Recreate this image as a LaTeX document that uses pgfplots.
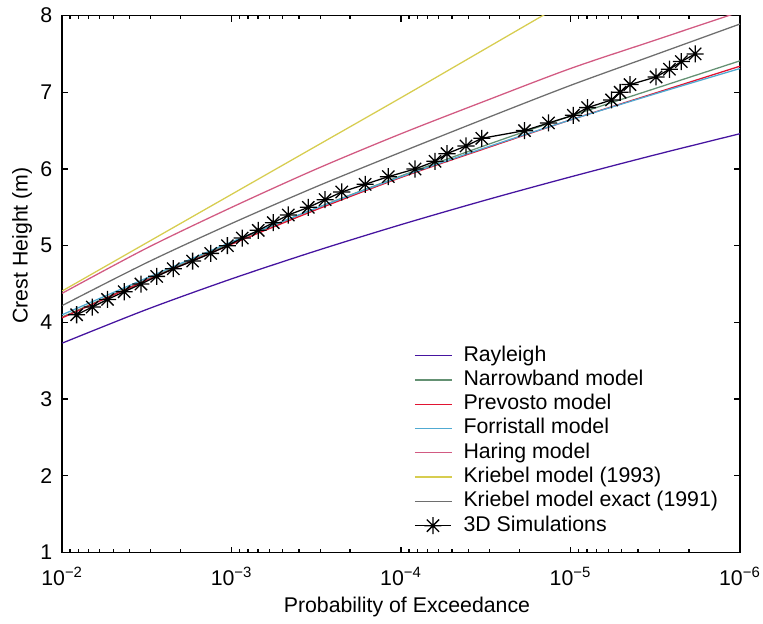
\documentclass[border=0pt]{standalone}
\usepackage{fontspec}
\setmainfont{Liberation Sans}
\usepackage{pgfplots}
\pgfplotsset{compat=1.18}
\definecolor{cray}{RGB}{70,20,160}
\definecolor{cnb}{RGB}{100,145,115}
\definecolor{cprev}{RGB}{225,20,50}
\definecolor{cforr}{RGB}{80,170,210}
\definecolor{char}{RGB}{210,90,130}
\definecolor{ckr}{RGB}{215,205,80}
\definecolor{ckre}{RGB}{110,110,110}
\pgfdeclareplotmark{mstar}{%
  \pgfpathmoveto{\pgfqpoint{-\pgfplotmarksize}{0pt}}\pgfpathlineto{\pgfqpoint{\pgfplotmarksize}{0pt}}%
  \pgfpathmoveto{\pgfqpoint{0pt}{-\pgfplotmarksize}}\pgfpathlineto{\pgfqpoint{0pt}{\pgfplotmarksize}}%
  \pgfpathmoveto{\pgfqpoint{-0.72\pgfplotmarksize}{-0.72\pgfplotmarksize}}\pgfpathlineto{\pgfqpoint{0.72\pgfplotmarksize}{0.72\pgfplotmarksize}}%
  \pgfpathmoveto{\pgfqpoint{-0.72\pgfplotmarksize}{0.72\pgfplotmarksize}}\pgfpathlineto{\pgfqpoint{0.72\pgfplotmarksize}{-0.72\pgfplotmarksize}}%
  \pgfusepathqstroke}
\begin{document}
\begin{tikzpicture}
\useasboundingbox (-29.2pt,-33.1pt) rectangle (329pt,259.4pt);
\begin{axis}[
  width=318.2pt, height=252.1pt, scale only axis,
  xmode=log, x dir=reverse,
  xmin=1e-6, xmax=1e-2, ymin=1, ymax=8,
  xtick={1e-2,1e-3,1e-4,1e-5,1e-6},
  xticklabels={10\textsuperscript{−2},10\textsuperscript{−3},10\textsuperscript{−4},10\textsuperscript{−5},10\textsuperscript{−6}},
  minor xtick={2e-6,3e-6,4e-6,5e-6,6e-6,7e-6,8e-6,9e-6,2e-5,3e-5,4e-5,5e-5,6e-5,7e-5,8e-5,9e-5,2e-4,3e-4,4e-4,5e-4,6e-4,7e-4,8e-4,9e-4,2e-3,3e-3,4e-3,5e-3,6e-3,7e-3,8e-3,9e-3},
  ytick={1,2,3,4,5,6,7,8},
  yticklabels={1,2,3,4,5,6,7,8},
  tick align=inside, tick pos=both,
  major tick length=2.8pt, minor tick length=1.5pt,
  axis line style={line width=0.8pt},
  every tick/.style={line width=0.6pt, black},
  yticklabel style={xshift=-1.2pt},
  xticklabel style={yshift=-3.5pt},
  xlabel={Probability of Exceedance},
  ylabel={Crest Height (m)},
  xlabel style={at={(axis description cs:0.5086,-0.111)}, anchor=base},
  ylabel style={at={(axis description cs:-0.059,0.572)}, anchor=center},
  legend cell align=left,
  legend style={draw=none, fill=none, at={(axis description cs:0.5186,0.39)}, anchor=north west,
    inner sep=0pt, row sep=0pt, nodes={inner sep=1pt, text height=7.2pt, text depth=2.2pt},
    /tikz/every odd column/.append style={column sep=4.5pt}},
  every axis plot/.append style={line width=0.6pt},
]
\addplot[cray, smooth] coordinates {(1e-2,3.730) (3.1623e-3,4.170) (1e-3,4.568) (3.1623e-4,4.934) (1e-4,5.275) (3.1623e-5,5.595) (1e-5,5.897) (3.1623e-6,6.185) (1e-6,6.460)};
\addlegendentry{Rayleigh}
\addplot[cnb, smooth] coordinates {(1e-2,4.07) (3.1623e-3,4.56) (1e-3,5.04) (3.1623e-4,5.49) (1e-4,5.91) (3.1623e-5,6.31) (1e-5,6.69) (3.1623e-6,7.05) (1e-6,7.41)};
\addlegendentry{Narrowband model}
\addplot[cprev, smooth] coordinates {(1e-2,4.06) (3.1623e-3,4.55) (1e-3,5.02) (3.1623e-4,5.47) (1e-4,5.89) (3.1623e-5,6.27) (1e-5,6.64) (3.1623e-6,6.99) (1e-6,7.34)};
\addlegendentry{Prevosto model}
\addplot[cforr, smooth] coordinates {(1e-2,4.10) (3.1623e-3,4.58) (1e-3,5.05) (3.1623e-4,5.49) (1e-4,5.90) (3.1623e-5,6.28) (1e-5,6.64) (3.1623e-6,6.98) (1e-6,7.31)};
\addlegendentry{Forristall model}
\addplot[char, smooth] coordinates {(1e-2,4.38) (3.1623e-3,4.97) (1e-3,5.50) (3.1623e-4,6.00) (1e-4,6.46) (3.1623e-5,6.89) (1e-5,7.31) (3.1623e-6,7.68) (1e-6,8.05)};
\addlegendentry{Haring model}
\addplot[ckr, smooth] coordinates {(1e-2,4.41) (3.1623e-3,5.04) (1e-3,5.67) (3.1623e-4,6.30) (1e-4,6.93) (3.1623e-5,7.57) (1e-5,8.21)};
\addlegendentry{Kriebel model (1993)}
\addplot[ckre, smooth] coordinates {(1e-2,4.22) (3.1623e-3,4.78) (1e-3,5.29) (3.1623e-4,5.77) (1e-4,6.22) (3.1623e-5,6.66) (1e-5,7.09) (3.1623e-6,7.49) (1e-6,7.89)};
\addlegendentry{Kriebel model exact (1991)}
\addplot[black, mark=mstar, mark size=4pt] coordinates {
(8.22e-3,4.1) (6.65e-3,4.2) (5.40e-3,4.3) (4.31e-3,4.4) (3.43e-3,4.5) (2.77e-3,4.6) (2.21e-3,4.7) (1.70e-3,4.8) (1.33e-3,4.9) (1.06e-3,5.0)
(8.66e-4,5.1) (6.97e-4,5.2) (5.68e-4,5.3) (4.63e-4,5.4) (3.53e-4,5.5) (2.81e-4,5.6) (2.24e-4,5.7) (1.63e-4,5.8) (1.19e-4,5.9)
(8.28e-5,6.0) (6.31e-5,6.1) (5.36e-5,6.2) (4.14e-5,6.3) (3.34e-5,6.4) (1.87e-5,6.5) (1.35e-5,6.6)
(9.63e-6,6.7) (7.94e-6,6.8) (5.73e-6,6.9) (5.10e-6,7.0) (4.46e-6,7.1) (3.13e-6,7.2) (2.61e-6,7.3) (2.22e-6,7.4) (1.84e-6,7.5)};
\addlegendentry{3D Simulations}
\end{axis}
\end{tikzpicture}
\end{document}
